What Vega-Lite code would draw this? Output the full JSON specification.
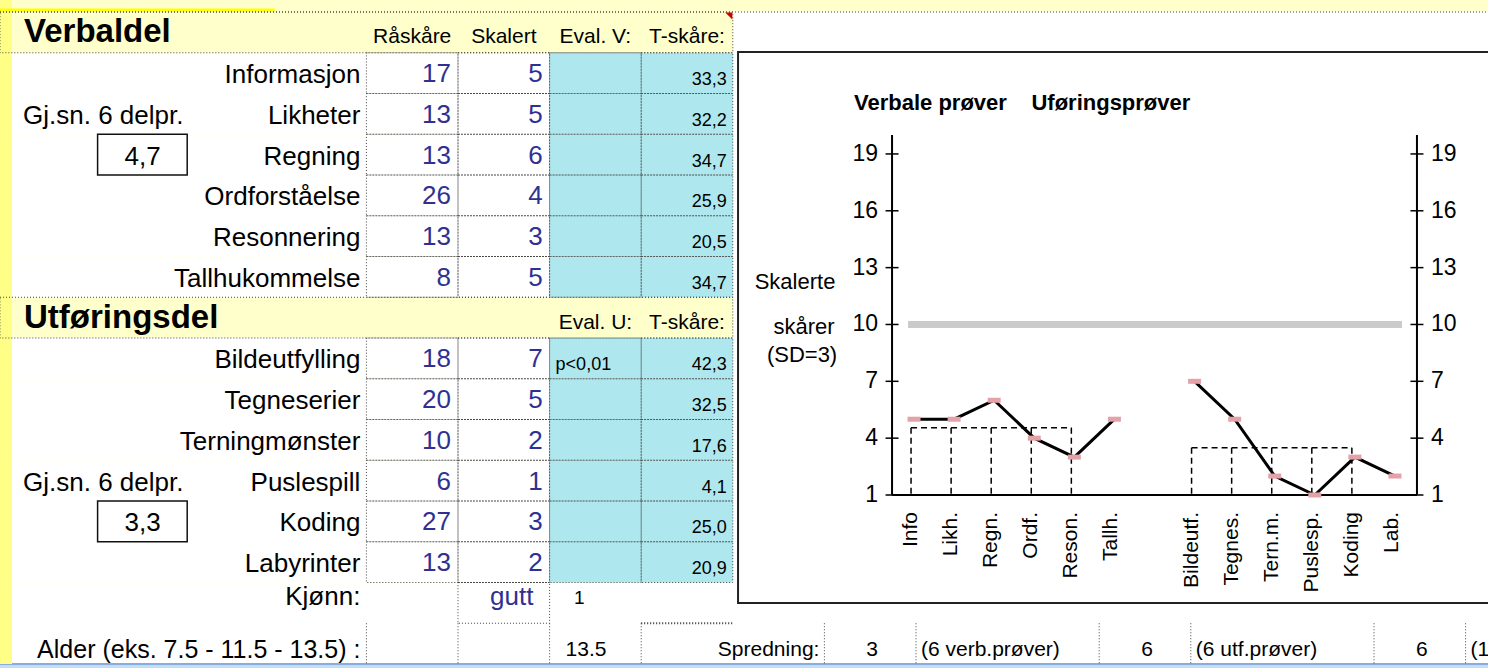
{
"$schema":"https://vega.github.io/schema/vega-lite/v6.json",
"width":1488,"height":668,"padding":0,"autosize":{"type":"none"},
"background":"#ffffcc",
"config":{"view":{"stroke":null},"text":{"font":"Liberation Sans"},"font":"Liberation Sans"},
"datasets":{
"tabell":[
{"row":"Informasjon","raw":17,"scaled":5,"eval":"","t":"33,3"},
{"row":"Likheter","raw":13,"scaled":5,"eval":"","t":"32,2"},
{"row":"Regning","raw":13,"scaled":6,"eval":"","t":"34,7"},
{"row":"Ordforståelse","raw":26,"scaled":4,"eval":"","t":"25,9"},
{"row":"Resonnering","raw":13,"scaled":3,"eval":"","t":"20,5"},
{"row":"Tallhukommelse","raw":8,"scaled":5,"eval":"","t":"34,7"},
{"row":"Bildeutfylling","raw":18,"scaled":7,"eval":"p<0,01","t":"42,3"},
{"row":"Tegneserier","raw":20,"scaled":5,"eval":"","t":"32,5"},
{"row":"Terningmønster","raw":10,"scaled":2,"eval":"","t":"17,6"},
{"row":"Puslespill","raw":6,"scaled":1,"eval":"","t":"4,1"},
{"row":"Koding","raw":27,"scaled":3,"eval":"","t":"25,0"},
{"row":"Labyrinter","raw":13,"scaled":2,"eval":"","t":"20,9"}
],
"overskrifter":[
{"row":"Verbaldel","col":"E","txt":"Råskåre"},
{"row":"Verbaldel","col":"F","txt":"Skalert"},
{"row":"Verbaldel","col":"G","txt":"Eval. V:"},
{"row":"Verbaldel","col":"H","txt":"T-skåre:"},
{"row":"Utføringsdel","col":"G","txt":"Eval. U:"},
{"row":"Utføringsdel","col":"H","txt":"T-skåre:"}
],
"snitt":[{"row":"Regning","v":"4,7"},{"row":"Koding","v":"3,3"}],
"prover":[
{"nr":1,"test":"Info","score":5,"group":"V"},
{"nr":2,"test":"Likh.","score":5,"group":"V"},
{"nr":3,"test":"Regn.","score":6,"group":"V"},
{"nr":4,"test":"Ordf.","score":4,"group":"V"},
{"nr":5,"test":"Reson.","score":3,"group":"V"},
{"nr":6,"test":"Tallh.","score":5,"group":"V"},
{"nr":7,"test":"Bildeutf.","score":7,"group":"U"},
{"nr":8,"test":"Tegnes.","score":5,"group":"U"},
{"nr":9,"test":"Tern.m.","score":2,"group":"U"},
{"nr":10,"test":"Puslesp.","score":1,"group":"U"},
{"nr":11,"test":"Koding","score":3,"group":"U"},
{"nr":12,"test":"Lab.","score":2,"group":"U"}
],
"soyler":[
{"test":"Info","level":4.55},{"test":"Likh.","level":4.55},{"test":"Regn.","level":4.55},{"test":"Ordf.","level":4.55},{"test":"Reson.","level":4.55},
{"test":"Bildeutf.","level":3.5},{"test":"Tegnes.","level":3.5},{"test":"Tern.m.","level":3.5},{"test":"Puslesp.","level":3.5},{"test":"Koding","level":3.5}
],
"topper":[{"from":"Info","to":"Reson.","level":4.55},{"from":"Bildeutf.","to":"Koding","level":3.5}],
"ticks":[{"v":1},{"v":4},{"v":7},{"v":10},{"v":13},{"v":16},{"v":19}]
},
"resolve":{"scale":{"x":"independent","y":"independent"}},
"layer":[
{"layer":[
{"data":{"name":"tabell"},"mark":{"type":"rect","fill":"#ffffff"},"encoding":{"x":{"datum":"A","bandPosition":0,"axis":null},"x2":{"datum":"R","bandPosition":0},"y":{"field":"row","type":"nominal","scale":{"type":"band","domain":["Verbaldel","Informasjon","Likheter","Regning","Ordforståelse","Resonnering","Tallhukommelse","Utføringsdel","Bildeutfylling","Tegneserier","Terningmønster","Puslespill","Koding","Labyrinter","Kjønn:","Alder","bunn"],"range":[12,704.75],"paddingInner":0,"paddingOuter":0},"axis":null}}},
{"data":{"values":[{"col":"A"}]},"mark":{"type":"rect","fill":"#ffffff"},"encoding":{"x":{"field":"col","type":"nominal","bandPosition":0,"scale":{"type":"band","domain":["A","B","C","D","E","F","G","H","I","J","K","L","M","N","O","P","Q","R"],"range":[0,1648.8],"paddingInner":0,"paddingOuter":0},"axis":null},"x2":{"datum":"R","bandPosition":0},"y":{"datum":"Kjønn:","bandPosition":0,"axis":null},"y2":{"datum":"bunn","bandPosition":0}}},
{"data":{"values":[{}]},"mark":{"type":"rect","fill":"#ffffff"},"encoding":{"x":{"datum":"I","bandPosition":0,"axis":null},"x2":{"datum":"R","bandPosition":0},"y":{"datum":"Verbaldel","bandPosition":0,"axis":null},"y2":{"datum":"Informasjon","bandPosition":0}}},
{"data":{"values":[{}]},"mark":{"type":"rect","fill":"#ffffff"},"encoding":{"x":{"datum":"I","bandPosition":0,"axis":null},"x2":{"datum":"R","bandPosition":0},"y":{"datum":"Utføringsdel","bandPosition":0,"axis":null},"y2":{"datum":"Bildeutfylling","bandPosition":0}}},
{"data":{"values":[{}]},"mark":{"type":"rect","fill":"#c4dcf4","y2Offset":12},"encoding":{"x":{"datum":"A","bandPosition":0,"axis":null},"x2":{"datum":"R","bandPosition":0},"y":{"datum":"bunn","bandPosition":0,"axis":null},"y2":{"datum":"bunn","bandPosition":0}}},
{"data":{"values":[{}]},"mark":{"type":"rule","color":"#86addf","strokeWidth":2},"encoding":{"x":{"datum":"A","bandPosition":0,"axis":null},"x2":{"datum":"R","bandPosition":0},"y":{"datum":"bunn","bandPosition":0,"axis":null}}},
{"data":{"values":[{}]},"mark":{"type":"rect","fill":"#ffff88","x2Offset":12,"yOffset":-12},"encoding":{"x":{"datum":"A","bandPosition":0,"axis":null},"x2":{"datum":"A","bandPosition":0},"y":{"datum":"Verbaldel","bandPosition":0,"axis":null},"y2":{"datum":"bunn","bandPosition":0}}},
{"data":{"values":[{}]},"mark":{"type":"rule","color":"#ffff00","strokeWidth":3,"yOffset":-2},"encoding":{"x":{"datum":"A","bandPosition":0,"axis":null},"x2":{"datum":"D","bandPosition":0},"y":{"datum":"Verbaldel","bandPosition":0,"axis":null}}},
{"data":{"name":"tabell"},"mark":{"type":"rect","fill":"#aee8ee"},"encoding":{"x":{"datum":"G","bandPosition":0,"axis":null},"x2":{"datum":"I","bandPosition":0},"y":{"field":"row","type":"nominal","scale":{"type":"band","domain":["Verbaldel","Informasjon","Likheter","Regning","Ordforståelse","Resonnering","Tallhukommelse","Utføringsdel","Bildeutfylling","Tegneserier","Terningmønster","Puslespill","Koding","Labyrinter","Kjønn:","Alder","bunn"],"range":[12,704.75],"paddingInner":0,"paddingOuter":0},"axis":null}}},
{"data":{"name":"tabell"},"mark":{"type":"rect","filled":false,"stroke":"#444444","strokeWidth":1,"strokeDash":[1,2]},"encoding":{"x":{"datum":"E","bandPosition":0,"axis":null},"x2":{"datum":"F","bandPosition":0},"y":{"field":"row","type":"nominal","scale":{"type":"band","domain":["Verbaldel","Informasjon","Likheter","Regning","Ordforståelse","Resonnering","Tallhukommelse","Utføringsdel","Bildeutfylling","Tegneserier","Terningmønster","Puslespill","Koding","Labyrinter","Kjønn:","Alder","bunn"],"range":[12,704.75],"paddingInner":0,"paddingOuter":0},"axis":null}}},
{"data":{"name":"tabell"},"mark":{"type":"rect","filled":false,"stroke":"#444444","strokeWidth":1,"strokeDash":[1,2]},"encoding":{"x":{"datum":"F","bandPosition":0,"axis":null},"x2":{"datum":"G","bandPosition":0},"y":{"field":"row","type":"nominal","scale":{"type":"band","domain":["Verbaldel","Informasjon","Likheter","Regning","Ordforståelse","Resonnering","Tallhukommelse","Utføringsdel","Bildeutfylling","Tegneserier","Terningmønster","Puslespill","Koding","Labyrinter","Kjønn:","Alder","bunn"],"range":[12,704.75],"paddingInner":0,"paddingOuter":0},"axis":null}}},
{"data":{"name":"tabell"},"mark":{"type":"rect","filled":false,"stroke":"#444444","strokeWidth":1,"strokeDash":[1,2]},"encoding":{"x":{"datum":"G","bandPosition":0,"axis":null},"x2":{"datum":"H","bandPosition":0},"y":{"field":"row","type":"nominal","scale":{"type":"band","domain":["Verbaldel","Informasjon","Likheter","Regning","Ordforståelse","Resonnering","Tallhukommelse","Utføringsdel","Bildeutfylling","Tegneserier","Terningmønster","Puslespill","Koding","Labyrinter","Kjønn:","Alder","bunn"],"range":[12,704.75],"paddingInner":0,"paddingOuter":0},"axis":null}}},
{"data":{"name":"tabell"},"mark":{"type":"rect","filled":false,"stroke":"#444444","strokeWidth":1,"strokeDash":[1,2]},"encoding":{"x":{"datum":"H","bandPosition":0,"axis":null},"x2":{"datum":"I","bandPosition":0},"y":{"field":"row","type":"nominal","scale":{"type":"band","domain":["Verbaldel","Informasjon","Likheter","Regning","Ordforståelse","Resonnering","Tallhukommelse","Utføringsdel","Bildeutfylling","Tegneserier","Terningmønster","Puslespill","Koding","Labyrinter","Kjønn:","Alder","bunn"],"range":[12,704.75],"paddingInner":0,"paddingOuter":0},"axis":null}}},
{"data":{"values":[{"row":"Verbaldel"},{"row":"Utføringsdel"}]},"mark":{"type":"rect","filled":false,"stroke":"#444444","strokeWidth":1,"strokeDash":[1,2]},"encoding":{"x":{"datum":"A","bandPosition":0,"axis":null},"x2":{"datum":"I","bandPosition":0},"y":{"field":"row","type":"nominal","scale":{"type":"band","domain":["Verbaldel","Informasjon","Likheter","Regning","Ordforståelse","Resonnering","Tallhukommelse","Utføringsdel","Bildeutfylling","Tegneserier","Terningmønster","Puslespill","Koding","Labyrinter","Kjønn:","Alder","bunn"],"range":[12,704.75],"paddingInner":0,"paddingOuter":0},"axis":null}}},
{"data":{"values":[{}]},"mark":{"type":"rule","color":"#444444","strokeWidth":1,"strokeDash":[1,2]},"encoding":{"x":{"datum":"A","bandPosition":0,"axis":null},"x2":{"datum":"R","bandPosition":0},"y":{"datum":"Verbaldel","bandPosition":0,"axis":null}}},
{"data":{"values":[{"row":"Kjønn:"}]},"mark":{"type":"rect","filled":false,"stroke":"#444444","strokeWidth":1,"strokeDash":[1,2]},"encoding":{"x":{"datum":"F","bandPosition":0,"axis":null},"x2":{"datum":"G","bandPosition":0},"y":{"field":"row","type":"nominal","scale":{"type":"band","domain":["Verbaldel","Informasjon","Likheter","Regning","Ordforståelse","Resonnering","Tallhukommelse","Utføringsdel","Bildeutfylling","Tegneserier","Terningmønster","Puslespill","Koding","Labyrinter","Kjønn:","Alder","bunn"],"range":[12,704.75],"paddingInner":0,"paddingOuter":0},"axis":null}}},
{"data":{"values":[{"col":"E"},{"col":"F"},{"col":"G"},{"col":"H"},{"col":"J"},{"col":"K"},{"col":"M"},{"col":"N"},{"col":"P"},{"col":"Q"}]},"mark":{"type":"rule","color":"#444444","strokeWidth":1,"strokeDash":[1,2]},"encoding":{"x":{"field":"col","type":"nominal","bandPosition":0,"scale":{"type":"band","domain":["A","B","C","D","E","F","G","H","I","J","K","L","M","N","O","P","Q","R"],"range":[0,1648.8],"paddingInner":0,"paddingOuter":0},"axis":null},"y":{"datum":"Alder","bandPosition":0,"axis":null},"y2":{"datum":"bunn","bandPosition":0}}},
{"data":{"values":[{"col":"H"}]},"mark":{"type":"rule","color":"#333333","strokeWidth":2,"strokeDash":[1,2]},"encoding":{"x":{"field":"col","type":"nominal","bandPosition":0,"scale":{"type":"band","domain":["A","B","C","D","E","F","G","H","I","J","K","L","M","N","O","P","Q","R"],"range":[0,1648.8],"paddingInner":0,"paddingOuter":0},"axis":null},"x2":{"datum":"I","bandPosition":0},"y":{"datum":"Alder","bandPosition":0,"axis":null}}},
{"data":{"values":[{"col":"I"}]},"mark":{"type":"point","shape":"M-1,-1L1,-1L1,1Z","size":50,"filled":true,"color":"#cc0000","opacity":1,"xOffset":-4,"yOffset":4},"encoding":{"x":{"field":"col","type":"nominal","bandPosition":0,"scale":{"type":"band","domain":["A","B","C","D","E","F","G","H","I","J","K","L","M","N","O","P","Q","R"],"range":[0,1648.8],"paddingInner":0,"paddingOuter":0},"axis":null},"y":{"datum":"Verbaldel","bandPosition":0,"axis":null}}},
{"data":{"values":[{"row":"Verbaldel","txt":"Verbaldel"},{"row":"Utføringsdel","txt":"Utføringsdel"}]},"mark":{"type":"text","align":"left","baseline":"middle","fontSize":33,"fontWeight":"bold","dx":24,"dy":0},"encoding":{"x":{"datum":"A","bandPosition":0,"axis":null},"y":{"field":"row","type":"nominal","bandPosition":0.5,"scale":{"type":"band","domain":["Verbaldel","Informasjon","Likheter","Regning","Ordforståelse","Resonnering","Tallhukommelse","Utføringsdel","Bildeutfylling","Tegneserier","Terningmønster","Puslespill","Koding","Labyrinter","Kjønn:","Alder","bunn"],"range":[12,704.75],"paddingInner":0,"paddingOuter":0},"axis":null},"text":{"field":"txt","type":"nominal"}}},
{"data":{"name":"overskrifter"},"mark":{"type":"text","align":"center","baseline":"middle","fontSize":21,"dy":5},"encoding":{"x":{"field":"col","type":"nominal","bandPosition":0.5,"scale":{"type":"band","domain":["A","B","C","D","E","F","G","H","I","J","K","L","M","N","O","P","Q","R"],"range":[0,1648.8],"paddingInner":0,"paddingOuter":0},"axis":null},"y":{"field":"row","type":"nominal","bandPosition":0.5,"scale":{"type":"band","domain":["Verbaldel","Informasjon","Likheter","Regning","Ordforståelse","Resonnering","Tallhukommelse","Utføringsdel","Bildeutfylling","Tegneserier","Terningmønster","Puslespill","Koding","Labyrinter","Kjønn:","Alder","bunn"],"range":[12,704.75],"paddingInner":0,"paddingOuter":0},"axis":null},"text":{"field":"txt","type":"nominal"}}},
{"data":{"name":"tabell"},"mark":{"type":"text","align":"right","baseline":"middle","fontSize":26,"dx":-6,"dy":2},"encoding":{"x":{"datum":"E","bandPosition":0,"axis":null},"y":{"field":"row","type":"nominal","bandPosition":0.5,"scale":{"type":"band","domain":["Verbaldel","Informasjon","Likheter","Regning","Ordforståelse","Resonnering","Tallhukommelse","Utføringsdel","Bildeutfylling","Tegneserier","Terningmønster","Puslespill","Koding","Labyrinter","Kjønn:","Alder","bunn"],"range":[12,704.75],"paddingInner":0,"paddingOuter":0},"axis":null},"text":{"field":"row","type":"nominal"}}},
{"data":{"name":"tabell"},"mark":{"type":"text","align":"right","baseline":"middle","fontSize":26,"dx":-7,"dy":1,"color":"#2f3192"},"encoding":{"x":{"datum":"F","bandPosition":0,"axis":null},"y":{"field":"row","type":"nominal","bandPosition":0.5,"scale":{"type":"band","domain":["Verbaldel","Informasjon","Likheter","Regning","Ordforståelse","Resonnering","Tallhukommelse","Utføringsdel","Bildeutfylling","Tegneserier","Terningmønster","Puslespill","Koding","Labyrinter","Kjønn:","Alder","bunn"],"range":[12,704.75],"paddingInner":0,"paddingOuter":0},"axis":null},"text":{"field":"raw","type":"nominal"}}},
{"data":{"name":"tabell"},"mark":{"type":"text","align":"right","baseline":"middle","fontSize":26,"dx":-7,"dy":1,"color":"#2f3192"},"encoding":{"x":{"datum":"G","bandPosition":0,"axis":null},"y":{"field":"row","type":"nominal","bandPosition":0.5,"scale":{"type":"band","domain":["Verbaldel","Informasjon","Likheter","Regning","Ordforståelse","Resonnering","Tallhukommelse","Utføringsdel","Bildeutfylling","Tegneserier","Terningmønster","Puslespill","Koding","Labyrinter","Kjønn:","Alder","bunn"],"range":[12,704.75],"paddingInner":0,"paddingOuter":0},"axis":null},"text":{"field":"scaled","type":"nominal"}}},
{"data":{"name":"tabell"},"mark":{"type":"text","align":"left","baseline":"middle","fontSize":18,"dx":6,"dy":7},"encoding":{"x":{"datum":"G","bandPosition":0,"axis":null},"y":{"field":"row","type":"nominal","bandPosition":0.5,"scale":{"type":"band","domain":["Verbaldel","Informasjon","Likheter","Regning","Ordforståelse","Resonnering","Tallhukommelse","Utføringsdel","Bildeutfylling","Tegneserier","Terningmønster","Puslespill","Koding","Labyrinter","Kjønn:","Alder","bunn"],"range":[12,704.75],"paddingInner":0,"paddingOuter":0},"axis":null},"text":{"field":"eval","type":"nominal"}}},
{"data":{"name":"tabell"},"mark":{"type":"text","align":"right","baseline":"middle","fontSize":18,"dx":-6,"dy":7},"encoding":{"x":{"datum":"I","bandPosition":0,"axis":null},"y":{"field":"row","type":"nominal","bandPosition":0.5,"scale":{"type":"band","domain":["Verbaldel","Informasjon","Likheter","Regning","Ordforståelse","Resonnering","Tallhukommelse","Utføringsdel","Bildeutfylling","Tegneserier","Terningmønster","Puslespill","Koding","Labyrinter","Kjønn:","Alder","bunn"],"range":[12,704.75],"paddingInner":0,"paddingOuter":0},"axis":null},"text":{"field":"t","type":"nominal"}}},
{"data":{"values":[{"row":"Likheter"},{"row":"Puslespill"}]},"mark":{"type":"text","align":"left","baseline":"middle","fontSize":26,"dx":23,"dy":2,"text":"Gj.sn. 6 delpr."},"encoding":{"x":{"datum":"A","bandPosition":0,"axis":null},"y":{"field":"row","type":"nominal","bandPosition":0.5,"scale":{"type":"band","domain":["Verbaldel","Informasjon","Likheter","Regning","Ordforståelse","Resonnering","Tallhukommelse","Utføringsdel","Bildeutfylling","Tegneserier","Terningmønster","Puslespill","Koding","Labyrinter","Kjønn:","Alder","bunn"],"range":[12,704.75],"paddingInner":0,"paddingOuter":0},"axis":null}}},
{"data":{"name":"snitt"},"mark":{"type":"rect","fill":"#ffffff","stroke":"#111111","strokeWidth":1.5,"xOffset":6,"x2Offset":4},"encoding":{"x":{"datum":"B","bandPosition":0,"axis":null},"x2":{"datum":"C","bandPosition":0},"y":{"field":"row","type":"nominal","scale":{"type":"band","domain":["Verbaldel","Informasjon","Likheter","Regning","Ordforståelse","Resonnering","Tallhukommelse","Utføringsdel","Bildeutfylling","Tegneserier","Terningmønster","Puslespill","Koding","Labyrinter","Kjønn:","Alder","bunn"],"range":[12,704.75],"paddingInner":0,"paddingOuter":0},"axis":null}}},
{"data":{"name":"snitt"},"mark":{"type":"text","align":"center","baseline":"middle","fontSize":26,"dx":51,"dy":2},"encoding":{"x":{"datum":"B","bandPosition":0,"axis":null},"y":{"field":"row","type":"nominal","bandPosition":0.5,"scale":{"type":"band","domain":["Verbaldel","Informasjon","Likheter","Regning","Ordforståelse","Resonnering","Tallhukommelse","Utføringsdel","Bildeutfylling","Tegneserier","Terningmønster","Puslespill","Koding","Labyrinter","Kjønn:","Alder","bunn"],"range":[12,704.75],"paddingInner":0,"paddingOuter":0},"axis":null},"text":{"field":"v","type":"nominal"}}},
{"data":{"values":[{"col":"E","txt":"Kjønn:"}]},"mark":{"type":"text","align":"right","baseline":"middle","fontSize":26,"dx":-6,"dy":-6},"encoding":{"x":{"field":"col","type":"nominal","bandPosition":0,"scale":{"type":"band","domain":["A","B","C","D","E","F","G","H","I","J","K","L","M","N","O","P","Q","R"],"range":[0,1648.8],"paddingInner":0,"paddingOuter":0},"axis":null},"y":{"datum":"Kjønn:","bandPosition":0.5,"axis":null},"text":{"field":"txt","type":"nominal"}}},
{"data":{"values":[{"col":"F","txt":"gutt"}]},"mark":{"type":"text","align":"center","baseline":"middle","fontSize":26,"dx":8,"dy":-6,"color":"#2f3192"},"encoding":{"x":{"field":"col","type":"nominal","bandPosition":0.5,"scale":{"type":"band","domain":["A","B","C","D","E","F","G","H","I","J","K","L","M","N","O","P","Q","R"],"range":[0,1648.8],"paddingInner":0,"paddingOuter":0},"axis":null},"y":{"datum":"Kjønn:","bandPosition":0.5,"axis":null},"text":{"field":"txt","type":"nominal"}}},
{"data":{"values":[{"col":"G","txt":"1"}]},"mark":{"type":"text","align":"center","baseline":"middle","fontSize":19,"dx":-16,"dy":-5},"encoding":{"x":{"field":"col","type":"nominal","bandPosition":0.5,"scale":{"type":"band","domain":["A","B","C","D","E","F","G","H","I","J","K","L","M","N","O","P","Q","R"],"range":[0,1648.8],"paddingInner":0,"paddingOuter":0},"axis":null},"y":{"datum":"Kjønn:","bandPosition":0.5,"axis":null},"text":{"field":"txt","type":"nominal"}}},
{"data":{"values":[{"col":"E","txt":"Alder (eks. 7.5 - 11.5 - 13.5) :"}]},"mark":{"type":"text","align":"right","baseline":"middle","fontSize":25,"dx":-6,"dy":6},"encoding":{"x":{"field":"col","type":"nominal","bandPosition":0,"scale":{"type":"band","domain":["A","B","C","D","E","F","G","H","I","J","K","L","M","N","O","P","Q","R"],"range":[0,1648.8],"paddingInner":0,"paddingOuter":0},"axis":null},"y":{"datum":"Alder","bandPosition":0.5,"axis":null},"text":{"field":"txt","type":"nominal"}}},
{"data":{"values":[{"col":"J","txt":"Spredning:"}]},"mark":{"type":"text","align":"right","baseline":"middle","fontSize":21,"dx":-5,"dy":6},"encoding":{"x":{"field":"col","type":"nominal","bandPosition":0,"scale":{"type":"band","domain":["A","B","C","D","E","F","G","H","I","J","K","L","M","N","O","P","Q","R"],"range":[0,1648.8],"paddingInner":0,"paddingOuter":0},"axis":null},"y":{"datum":"Alder","bandPosition":0.5,"axis":null},"text":{"field":"txt","type":"nominal"}}},
{"data":{"values":[{"col":"J","txt":"3"},{"col":"M","txt":"6"},{"col":"P","txt":"6"}]},"mark":{"type":"text","align":"center","baseline":"middle","fontSize":21,"dx":2,"dy":6},"encoding":{"x":{"field":"col","type":"nominal","bandPosition":0.5,"scale":{"type":"band","domain":["A","B","C","D","E","F","G","H","I","J","K","L","M","N","O","P","Q","R"],"range":[0,1648.8],"paddingInner":0,"paddingOuter":0},"axis":null},"y":{"datum":"Alder","bandPosition":0.5,"axis":null},"text":{"field":"txt","type":"nominal"}}},
{"data":{"values":[{"col":"G","txt":"13.5"}]},"mark":{"type":"text","align":"left","baseline":"middle","fontSize":21,"dx":16,"dy":6},"encoding":{"x":{"field":"col","type":"nominal","bandPosition":0,"scale":{"type":"band","domain":["A","B","C","D","E","F","G","H","I","J","K","L","M","N","O","P","Q","R"],"range":[0,1648.8],"paddingInner":0,"paddingOuter":0},"axis":null},"y":{"datum":"Alder","bandPosition":0.5,"axis":null},"text":{"field":"txt","type":"nominal"}}},
{"data":{"values":[{"col":"K","txt":"(6 verb.prøver)"},{"col":"N","txt":"(6 utf.prøver)"},{"col":"Q","txt":"(1"}]},"mark":{"type":"text","align":"left","baseline":"middle","fontSize":21,"dx":5,"dy":6},"encoding":{"x":{"field":"col","type":"nominal","bandPosition":0,"scale":{"type":"band","domain":["A","B","C","D","E","F","G","H","I","J","K","L","M","N","O","P","Q","R"],"range":[0,1648.8],"paddingInner":0,"paddingOuter":0},"axis":null},"y":{"datum":"Alder","bandPosition":0.5,"axis":null},"text":{"field":"txt","type":"nominal"}}}
]},
{"layer":[
{"data":{"values":[{"test":"Info","top":20}]},"mark":{"type":"rect","fill":"#ffffff","stroke":"#222222","strokeWidth":2,"xOffset":-176,"x2Offset":200,"yOffset":-83,"y2Offset":108},"encoding":{"x":{"field":"test","type":"nominal","scale":{"type":"point","domain":["Info","Likh.","Regn.","Ordf.","Reson.","Tallh."," ","Bildeutf.","Tegnes.","Tern.m.","Puslesp.","Koding","Lab."],"range":[892,1417],"padding":0.55},"axis":null},"x2":{"datum":"Lab."},"y":{"field":"top","type":"quantitative","scale":{"type":"linear","domain":[1,20],"range":[495,135],"zero":false,"nice":false},"axis":null},"y2":{"datum":1}}},
{"data":{"values":[{}]},"mark":{"type":"rule","color":"#cacaca","strokeWidth":7,"xOffset":-6,"x2Offset":7},"encoding":{"x":{"datum":"Info","axis":null},"x2":{"datum":"Lab."},"y":{"datum":10,"axis":null}}},
{"data":{"name":"soyler"},"mark":{"type":"rule","color":"#000000","strokeWidth":1.5,"strokeDash":[6,4],"xOffset":-3},"encoding":{"x":{"field":"test","type":"nominal","scale":{"type":"point","domain":["Info","Likh.","Regn.","Ordf.","Reson.","Tallh."," ","Bildeutf.","Tegnes.","Tern.m.","Puslesp.","Koding","Lab."],"range":[892,1417],"padding":0.55},"axis":null},"y":{"field":"level","type":"quantitative","scale":{"type":"linear","domain":[1,20],"range":[495,135],"zero":false,"nice":false},"axis":null},"y2":{"datum":1}}},
{"data":{"name":"topper"},"mark":{"type":"rule","color":"#000000","strokeWidth":1.5,"strokeDash":[6,4],"xOffset":-3,"x2Offset":-3},"encoding":{"x":{"field":"from","type":"nominal","scale":{"type":"point","domain":["Info","Likh.","Regn.","Ordf.","Reson.","Tallh."," ","Bildeutf.","Tegnes.","Tern.m.","Puslesp.","Koding","Lab."],"range":[892,1417],"padding":0.55},"axis":null},"x2":{"field":"to"},"y":{"field":"level","type":"quantitative","scale":{"type":"linear","domain":[1,20],"range":[495,135],"zero":false,"nice":false},"axis":null}}},
{"data":{"values":[{}]},"mark":{"type":"rule","color":"#000000","strokeWidth":2,"xOffset":-22},"encoding":{"x":{"datum":"Info","axis":null},"y":{"datum":1,"axis":null},"y2":{"datum":20}}},
{"data":{"values":[{}]},"mark":{"type":"rule","color":"#000000","strokeWidth":2,"xOffset":22},"encoding":{"x":{"datum":"Lab.","axis":null},"y":{"datum":1,"axis":null},"y2":{"datum":20}}},
{"data":{"values":[{}]},"mark":{"type":"rule","color":"#000000","strokeWidth":2,"xOffset":-22,"x2Offset":22},"encoding":{"x":{"datum":"Info","axis":null},"x2":{"datum":"Lab."},"y":{"datum":1,"axis":null}}},
{"data":{"name":"ticks"},"mark":{"type":"tick","orient":"horizontal","size":13,"thickness":1.5,"color":"#000000","opacity":1,"xOffset":-22},"encoding":{"x":{"datum":"Info","axis":null},"y":{"field":"v","type":"quantitative","scale":{"type":"linear","domain":[1,20],"range":[495,135],"zero":false,"nice":false},"axis":null}}},
{"data":{"name":"ticks"},"mark":{"type":"tick","orient":"horizontal","size":13,"thickness":1.5,"color":"#000000","opacity":1,"xOffset":22},"encoding":{"x":{"datum":"Lab.","axis":null},"y":{"field":"v","type":"quantitative","scale":{"type":"linear","domain":[1,20],"range":[495,135],"zero":false,"nice":false},"axis":null}}},
{"data":{"name":"ticks"},"mark":{"type":"text","align":"right","baseline":"middle","fontSize":23,"xOffset":-22,"dx":-14},"encoding":{"x":{"datum":"Info","axis":null},"y":{"field":"v","type":"quantitative","scale":{"type":"linear","domain":[1,20],"range":[495,135],"zero":false,"nice":false},"axis":null},"text":{"field":"v","type":"quantitative"}}},
{"data":{"name":"ticks"},"mark":{"type":"text","align":"left","baseline":"middle","fontSize":23,"xOffset":22,"dx":14},"encoding":{"x":{"datum":"Lab.","axis":null},"y":{"field":"v","type":"quantitative","scale":{"type":"linear","domain":[1,20],"range":[495,135],"zero":false,"nice":false},"axis":null},"text":{"field":"v","type":"quantitative"}}},
{"data":{"name":"prover"},"mark":{"type":"line","color":"#000000","strokeWidth":3},"encoding":{"x":{"field":"test","type":"nominal","scale":{"type":"point","domain":["Info","Likh.","Regn.","Ordf.","Reson.","Tallh."," ","Bildeutf.","Tegnes.","Tern.m.","Puslesp.","Koding","Lab."],"range":[892,1417],"padding":0.55},"axis":null},"y":{"field":"score","type":"quantitative","scale":{"type":"linear","domain":[1,20],"range":[495,135],"zero":false,"nice":false},"axis":null},"detail":{"field":"group","type":"nominal"},"order":{"field":"nr","type":"quantitative"}}},
{"data":{"name":"prover"},"mark":{"type":"tick","orient":"horizontal","size":13,"thickness":5,"color":"#e3a1a8","opacity":1},"encoding":{"x":{"field":"test","type":"nominal","scale":{"type":"point","domain":["Info","Likh.","Regn.","Ordf.","Reson.","Tallh."," ","Bildeutf.","Tegnes.","Tern.m.","Puslesp.","Koding","Lab."],"range":[892,1417],"padding":0.55},"axis":null},"y":{"field":"score","type":"quantitative","scale":{"type":"linear","domain":[1,20],"range":[495,135],"zero":false,"nice":false},"axis":null}}},
{"data":{"name":"prover"},"mark":{"type":"text","angle":270,"align":"right","baseline":"middle","fontSize":21,"dx":-17,"dy":-3},"encoding":{"x":{"field":"test","type":"nominal","scale":{"type":"point","domain":["Info","Likh.","Regn.","Ordf.","Reson.","Tallh."," ","Bildeutf.","Tegnes.","Tern.m.","Puslesp.","Koding","Lab."],"range":[892,1417],"padding":0.55},"axis":null},"y":{"datum":1,"axis":null},"text":{"field":"test","type":"nominal"}}},
{"data":{"values":[{}]},"mark":{"type":"text","align":"left","baseline":"middle","fontSize":22,"fontWeight":"bold","dx":-60,"text":"Verbale prøver"},"encoding":{"x":{"datum":"Info","axis":null},"y":{"datum":21.7,"axis":null}}},
{"data":{"values":[{}]},"mark":{"type":"text","align":"left","baseline":"middle","fontSize":22,"fontWeight":"bold","dx":-83,"text":"Uføringsprøver"},"encoding":{"x":{"datum":"Tallh.","axis":null},"y":{"datum":21.7,"axis":null}}},
{"data":{"values":[{}]},"mark":{"type":"text","align":"center","baseline":"middle","fontSize":22,"dx":-119,"text":"Skalerte"},"encoding":{"x":{"datum":"Info","axis":null},"y":{"datum":12.24,"axis":null}}},
{"data":{"values":[{}]},"mark":{"type":"text","align":"center","baseline":"middle","fontSize":22,"dx":-110,"text":"skårer"},"encoding":{"x":{"datum":"Info","axis":null},"y":{"datum":9.87,"axis":null}}},
{"data":{"values":[{}]},"mark":{"type":"text","align":"center","baseline":"middle","fontSize":22,"dx":-112,"text":"(SD=3)"},"encoding":{"x":{"datum":"Info","axis":null},"y":{"datum":8.39,"axis":null}}}
]}
]
}
